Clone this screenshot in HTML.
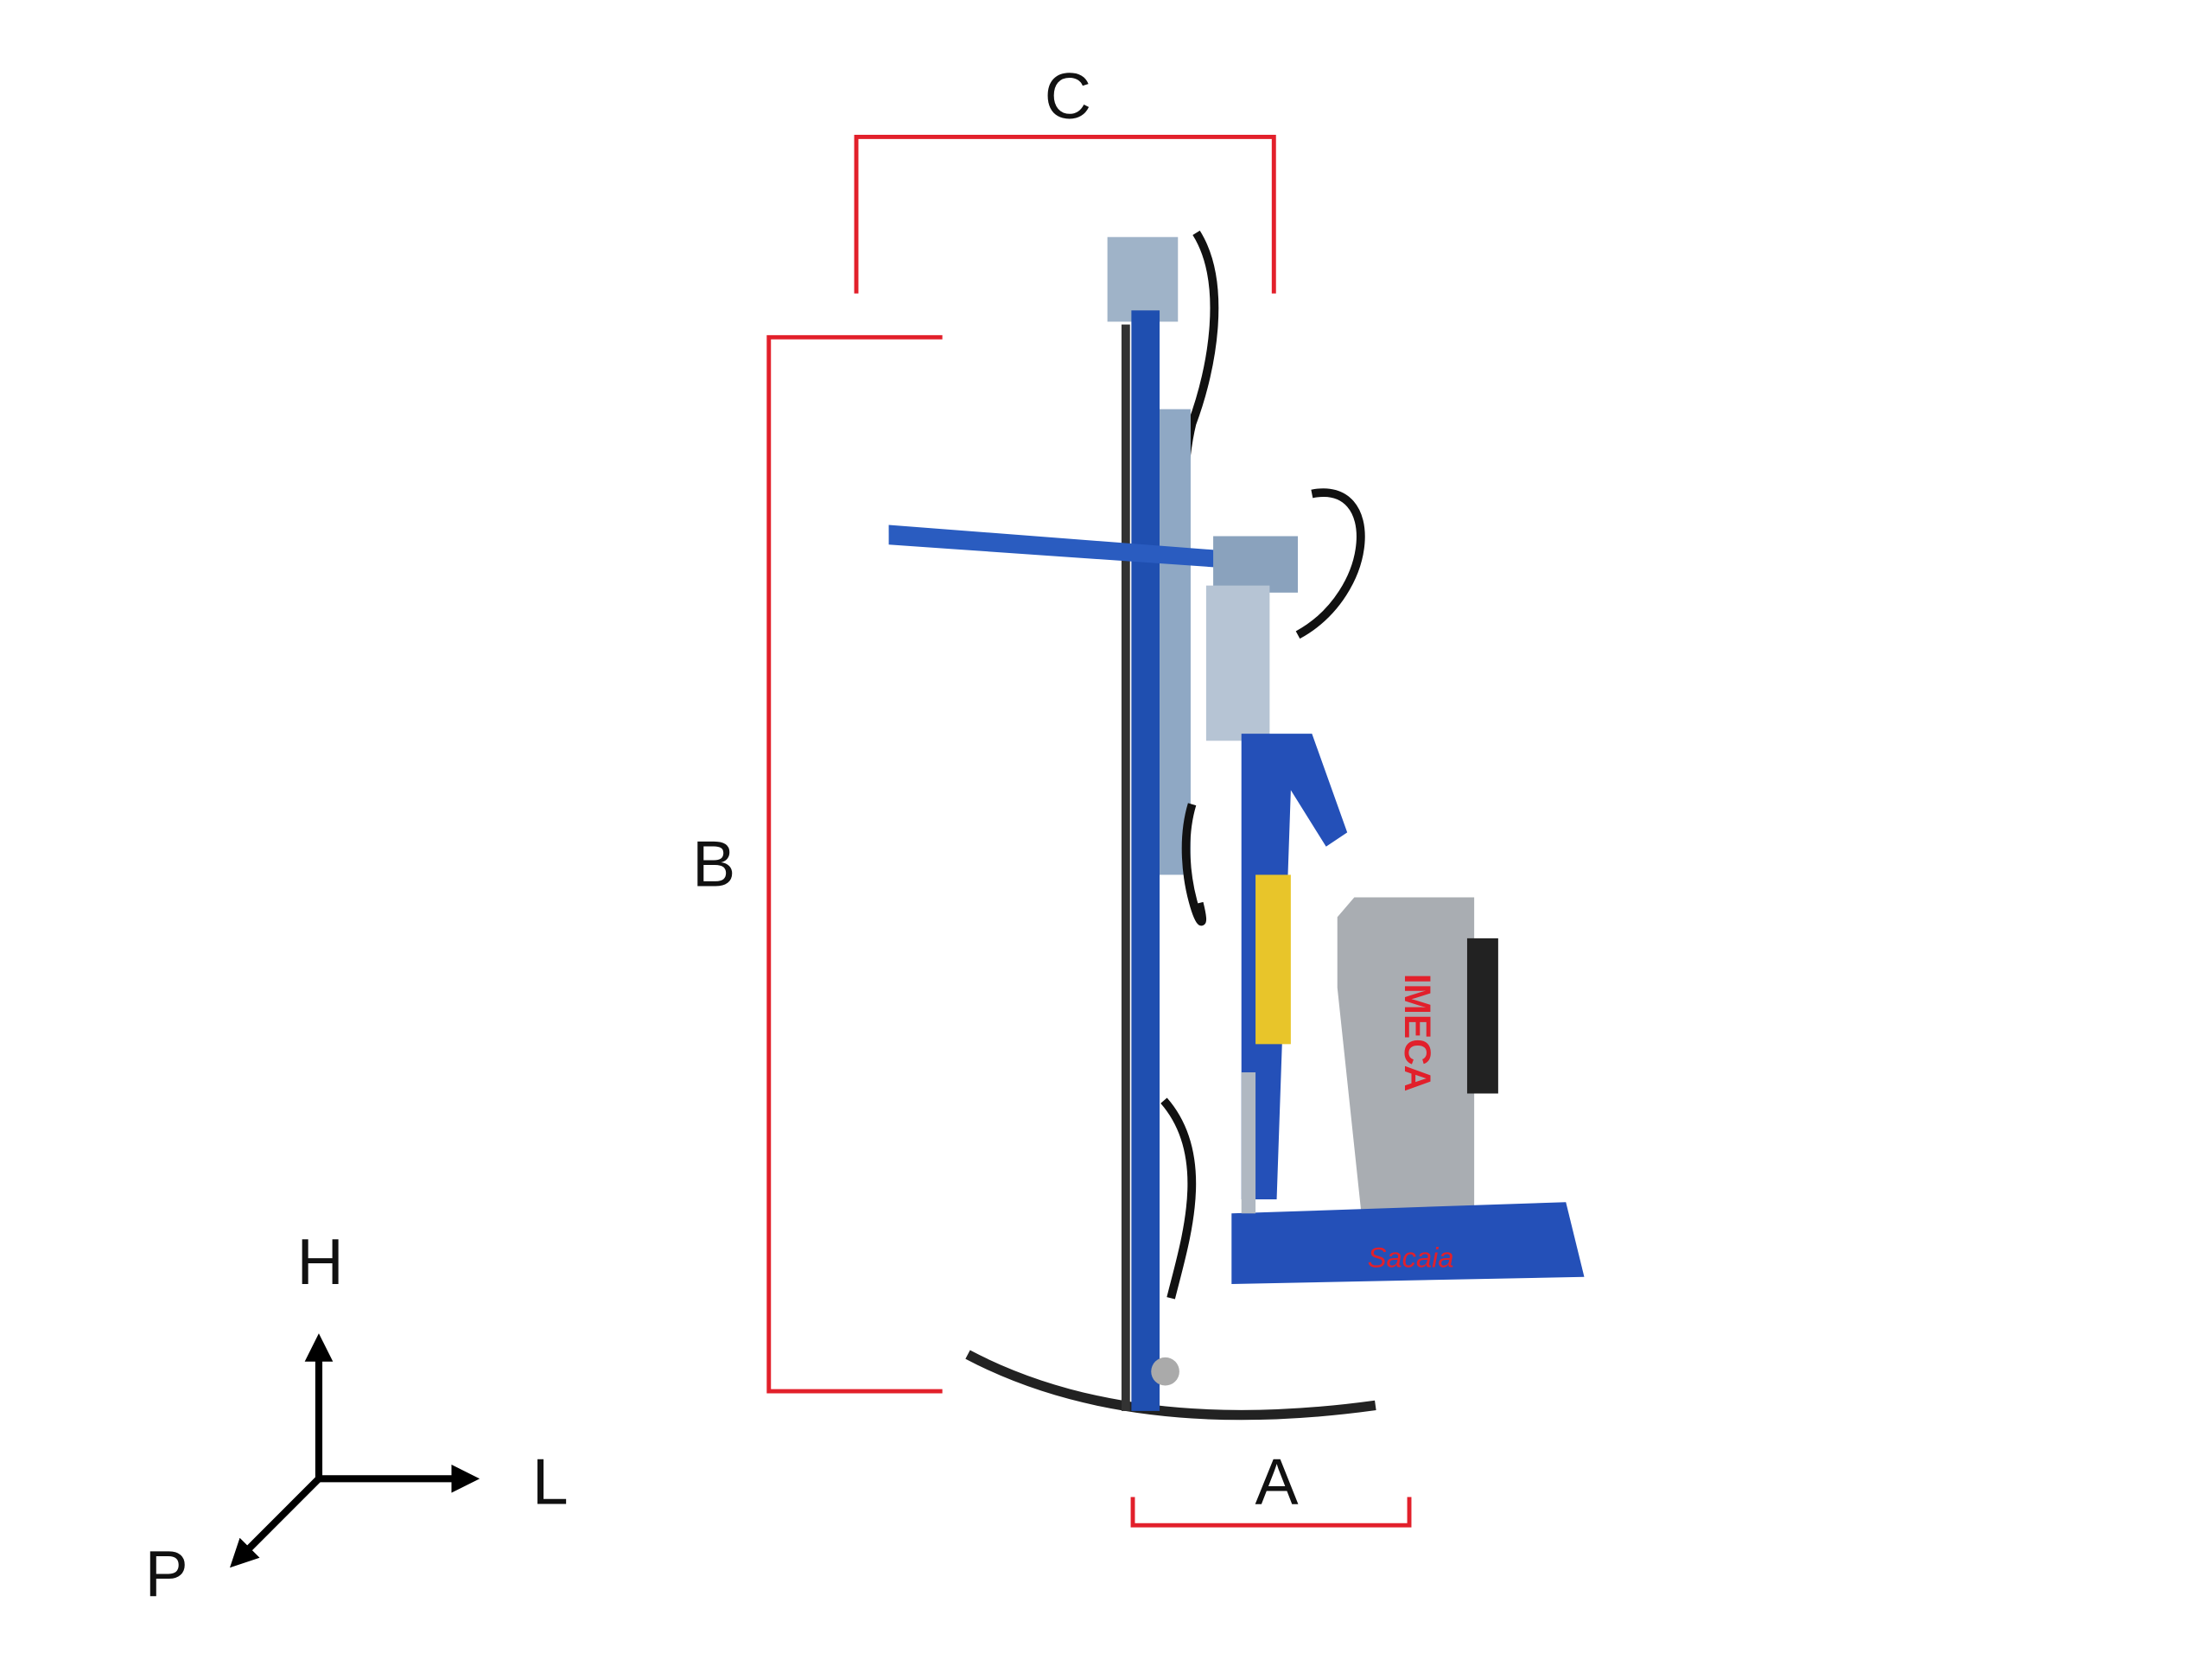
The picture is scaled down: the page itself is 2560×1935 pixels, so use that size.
<!DOCTYPE html>
<html><head><meta charset="utf-8"><style>
html,body{margin:0;padding:0;background:#fff;width:2560px;height:1935px;overflow:hidden}
svg{display:block}
text{font-family:"Liberation Sans",sans-serif;fill:#111}
</style></head><body>
<svg width="2560" height="1935" viewBox="0 0 1568 1185" preserveAspectRatio="none" xmlns="http://www.w3.org/2000/svg">
<defs><marker id="ar" viewBox="0 0 10 10" refX="5" refY="5" markerWidth="4" markerHeight="4" orient="auto"><path d="M0,0L10,5L0,10z" fill="#000"/></marker></defs>
<!-- brackets -->
<g stroke="#e2202b" stroke-width="3" fill="none">
<polyline points="607,208 607,97 903,97 903,208"/>
<polyline points="668,239 545,239 545,986 668,986"/>
<polyline points="803,1061 803,1081 999,1081 999,1061"/>
</g>
<text x="757" y="84" font-size="46" text-anchor="middle">C</text>
<text x="506" y="628" font-size="46" text-anchor="middle">B</text>
<text x="905" y="1066" font-size="46" text-anchor="middle">A</text>
<!-- axes -->
<g stroke="#000" stroke-width="5" fill="none">
<line x1="226" y1="1048" x2="226" y2="955" marker-end="url(#ar)"/>
<line x1="226" y1="1048" x2="330" y2="1048" marker-end="url(#ar)"/>
<line x1="226" y1="1048" x2="170" y2="1104" marker-end="url(#ar)"/>
</g>
<text x="227" y="910" font-size="46" text-anchor="middle">H</text>
<text x="390" y="1066" font-size="46" text-anchor="middle">L</text>
<text x="118" y="1131" font-size="46" text-anchor="middle">P</text>
<!-- machine -->
<path d="M686,960 Q800,1020 975,996" stroke="#222" stroke-width="7" fill="none"/>
<rect x="785" y="168" width="50" height="60" fill="#9fb3c8"/>
<path d="M848,165 C870,200 860,260 845,300 C835,340 840,400 835,440" stroke="#111" stroke-width="6" fill="none"/>
<rect x="802" y="220" width="20" height="780" fill="#1f4fb0"/>
<rect x="795" y="230" width="6" height="770" fill="#333"/>
<rect x="822" y="290" width="22" height="330" fill="#8fa8c4"/>
<polygon points="630,372 890,392 890,404 630,386" fill="#2a5cc0"/>
<rect x="860" y="380" width="60" height="40" fill="#8aa2bd"/>
<path d="M930,350 C980,340 975,420 920,450" stroke="#111" stroke-width="6" fill="none"/>
<rect x="855" y="415" width="45" height="110" fill="#b6c4d4"/>
<polygon points="880,520 930,520 955,590 940,600 915,560 905,850 880,850" fill="#2450b8"/>
<path d="M845,570 C830,620 860,680 850,640" stroke="#111" stroke-width="6" fill="none"/>
<path d="M825,780 C860,820 840,880 830,920" stroke="#111" stroke-width="6" fill="none"/>
<rect x="890" y="620" width="25" height="120" fill="#e8c52a"/>
<polygon points="948,650 960,636 1045,636 1045,860 965,860 948,700" fill="#a9adb2"/>
<rect x="1040" y="665" width="22" height="110" fill="#222"/>
<text x="996" y="690" font-size="26" fill="#e2202b" font-weight="bold" transform="rotate(90 996 690)" style="fill:#e2202b">IMECA</text>
<polygon points="873,860 1110,852 1123,905 873,910" fill="#2450b8"/>
<text x="1000" y="898" font-size="20" font-style="italic" text-anchor="middle" style="fill:#e2202b">Sacaia</text>
<rect x="880" y="760" width="10" height="100" fill="#b0b8c2"/>
<circle cx="826" cy="972" r="10" fill="#aaa"/>
</svg>
</body></html>
